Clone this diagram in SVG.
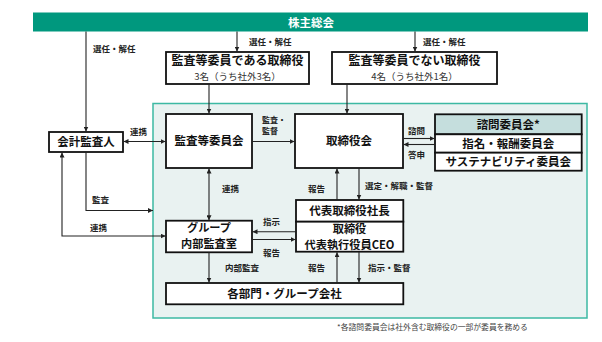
<svg xmlns="http://www.w3.org/2000/svg" width="602" height="342" viewBox="0 0 602 342">
<style>
text{font-family:"Noto Sans CJK JP","Noto Sans",sans-serif;fill:#111}
.box{fill:#fff;stroke:#111;stroke-width:1.8}
.t{font-size:11.5px;font-weight:700;text-anchor:middle}
.s{font-size:9.5px;font-weight:400;text-anchor:middle;fill:#333}
.l{font-size:8.5px;font-weight:700;fill:#222}
.c{fill:none;stroke:#222;stroke-width:1.1}
</style>
<defs>
<marker id="a" viewBox="0 0 6 6" refX="6" refY="3" markerWidth="5" markerHeight="5" markerUnits="userSpaceOnUse" orient="auto-start-reverse">
<path d="M0 0L6 3L0 6z" fill="#222"/>
</marker>
</defs>
<rect x="153" y="103.5" width="434" height="214.5" fill="#e9f2f1" stroke="#3db9a3" stroke-width="1.5"/>
<g id="shareholders">
<rect x="33" y="12.5" width="555" height="19" fill="#00987e"/>
<text x="311" y="26.5" class="t" style="fill:#fff">株主総会</text>
</g>
<g id="auditDirectors">
<rect class="box" x="166" y="52" width="143" height="32"/>
<text x="237.5" y="65.2" class="t" style="font-size:12px">監査等委員である取締役</text>
<text x="237.5" y="80" class="s">3名（うち社外3名）</text>
</g>
<g id="nonAuditDirectors">
<rect class="box" x="332" y="52" width="165" height="32"/>
<text x="414.5" y="65.2" class="t" style="font-size:12px">監査等委員でない取締役</text>
<text x="414.5" y="80" class="s">4名（うち社外1名）</text>
</g>
<g id="accountingAuditor">
<rect class="box" x="49" y="132" width="74" height="20"/>
<text x="86" y="146" class="t">会計監査人</text>
</g>
<g id="auditCommittee">
<rect class="box" x="166" y="114" width="86" height="54"/>
<text x="209" y="145" class="t">監査等委員会</text>
</g>
<g id="board">
<rect class="box" x="295" y="114" width="108" height="54"/>
<text x="349" y="145" class="t">取締役会</text>
</g>
<g id="advisory">
<rect x="435" y="114.3" width="146.7" height="20" fill="#c5dedd" stroke="#111" stroke-width="1.8"/>
<rect class="box" x="435" y="134.3" width="146.7" height="18.4"/>
<rect class="box" x="435" y="152.7" width="146.7" height="18"/>
<text x="508.3" y="128.5" class="t">諮問委員会*</text>
<text x="508.3" y="147.5" class="t">指名・報酬委員会</text>
<text x="508.3" y="166" class="t">サステナビリティ委員会</text>
</g>
<g id="internalAudit">
<rect class="box" x="166" y="220.7" width="86" height="31.6"/>
<text x="209" y="232.3" class="t" style="font-size:11.2px">グループ</text>
<text x="209" y="247.6" class="t" style="font-size:11.2px">内部監査室</text>
</g>
<g id="president">
<rect class="box" x="296" y="200" width="107.3" height="21.7"/>
<rect class="box" x="296" y="221.7" width="107.3" height="30"/>
<text x="349.5" y="215" class="t">代表取締役社長</text>
<text x="349.5" y="233.4" class="t" style="font-size:11.2px">取締役</text>
<text x="349.5" y="248.6" class="t" style="font-size:11.2px">代表執行役員CEO</text>
</g>
<g id="divisions">
<rect class="box" x="166" y="283" width="237.3" height="21.3"/>
<text x="284.5" y="298" class="t">各部門・グループ会社</text>
</g>
<g id="connectors">
<path class="c" d="M86 31.5V131.5" marker-end="url(#a)"/>
<path class="c" d="M237 31.5V51.5" marker-end="url(#a)"/>
<path class="c" d="M415 31.5V51.5" marker-end="url(#a)"/>
<path class="c" d="M209 84V113.5" marker-end="url(#a)"/>
<path class="c" d="M347 84V113.5" marker-end="url(#a)"/>
<path class="c" d="M123.5 141.5H165.5" marker-start="url(#a)" marker-end="url(#a)"/>
<path class="c" d="M252 141.5H294.5" marker-end="url(#a)"/>
<path class="c" d="M403 138.5H434.5" marker-end="url(#a)"/>
<path class="c" d="M435 144.5H403.5" marker-end="url(#a)"/>
<path class="c" d="M209 168.5V220.2" marker-start="url(#a)" marker-end="url(#a)"/>
<path class="c" d="M86 152V210.5H153" marker-end="url(#a)"/>
<path class="c" d="M62 152.5V236H165.5" marker-start="url(#a)" marker-end="url(#a)"/>
<path class="c" d="M337 200V168.5" marker-end="url(#a)"/>
<path class="c" d="M359 168V199.5" marker-end="url(#a)"/>
<path class="c" d="M296 231.7H252.5" marker-end="url(#a)"/>
<path class="c" d="M252 239.5H295.5" marker-end="url(#a)"/>
<path class="c" d="M209 252.3V282.5" marker-end="url(#a)"/>
<path class="c" d="M337 283V252.2" marker-end="url(#a)"/>
<path class="c" d="M359 251.7V282.5" marker-end="url(#a)"/>
</g>
<g id="labels">
<text x="93" y="52" class="l">選任・解任</text>
<text x="249" y="45" class="l">選任・解任</text>
<text x="423" y="45" class="l">選任・解任</text>
<text x="130" y="135" class="l">連携</text>
<text x="262" y="122.5" class="l" style="font-size:8px">監査・</text>
<text x="262" y="134.3" class="l" style="font-size:8px">監督</text>
<text x="408" y="134" class="l">諮問</text>
<text x="408" y="158" class="l">答申</text>
<text x="222" y="192" class="l">連携</text>
<text x="92" y="203" class="l">監査</text>
<text x="90" y="231" class="l">連携</text>
<text x="308" y="192" class="l">報告</text>
<text x="365" y="189" class="l">選定・解職・監督</text>
<text x="263" y="225" class="l">指示</text>
<text x="263" y="256" class="l">報告</text>
<text x="225" y="271" class="l">内部監査</text>
<text x="308" y="271" class="l">報告</text>
<text x="368" y="271" class="l">指示・監督</text>
</g>
<text x="432.5" y="329.5" style="font-size:7.8px;fill:#444;text-anchor:middle">*各諮問委員会は社外含む取締役の一部が委員を務める</text>
</svg>
